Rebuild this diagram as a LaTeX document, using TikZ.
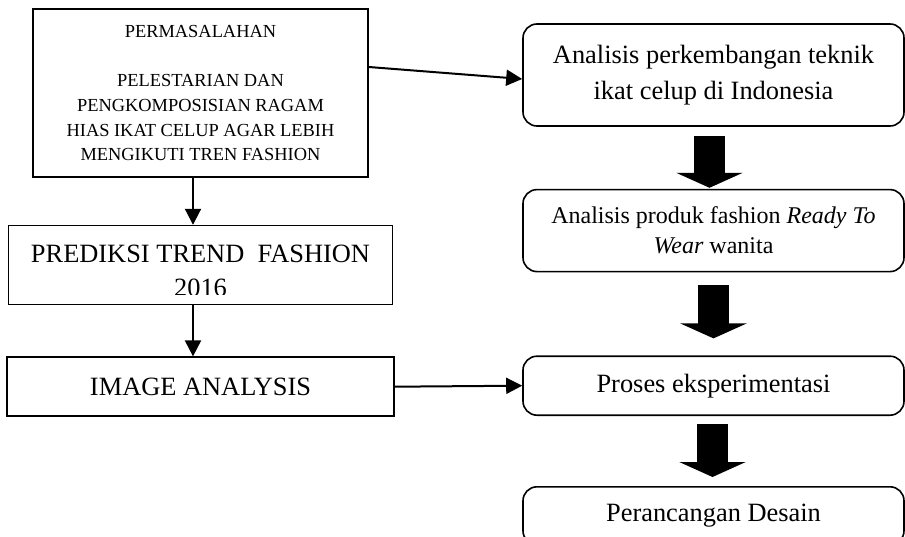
\documentclass[tikz,border=0pt]{standalone}
\usepackage{fontspec}
\setmainfont{Liberation Serif}
\usetikzlibrary{positioning,arrows.meta}

\begin{document}
\begin{tikzpicture}[x=1pt,y=-1pt,
  lbox/.style={draw,line width=1.6pt,inner sep=0pt,align=center},
  rbox/.style={draw,line width=1.6pt,rounded corners=14pt,inner sep=0pt,align=center,minimum width=381pt},
  big/.style={font=\fontsize{26.4}{36}\selectfont},
  arr/.style={-{Triangle[width=16pt,length=16pt]},line width=2pt},
  blk/.style={-{Triangle[width=66pt,length=15pt]},line width=31pt}]
\useasboundingbox (0,0) rectangle (905,537);
% left column
\node[lbox,minimum width=335pt,minimum height=168pt,font=\fontsize{18.4}{24.7}\selectfont] (pm) at (200.5,93)
  {PERMASALAHAN\\[24.7pt]PELESTARIAN DAN\\PENGKOMPOSISIAN RAGAM\\HIAS IKAT CELUP AGAR LEBIH\\MENGIKUTI TREN FASHION};
\node[lbox,minimum width=384pt,minimum height=79pt,below=47pt of pm] (pt) {};
\begin{scope}
\clip ([yshift=11pt]pt.south west) rectangle (pt.north east);
\node[inner sep=0pt,align=center,anchor=north,font=\fontsize{26.4}{33.5}\selectfont] (ptx) at ([yshift=-20.5pt]pt.north)
  {PREDIKSI TREND\ \ FASHION\\2016};
\end{scope}
\node[lbox,minimum width=387pt,minimum height=59pt,big,below=51pt of pt] (ia) {IMAGE ANALYSIS};
% right column
\node[rbox,minimum height=102pt,big] (an1) at (713.5,75) {Analisis perkembangan teknik\\ikat celup di Indonesia};
\node[rbox,minimum height=82pt,below=62pt of an1,font=\fontsize{24}{30}\selectfont] (an2)
  {Analisis produk fashion \textit{Ready To}\\\textit{Wear} wanita};
\node[rbox,minimum height=59pt,big,below=83pt of an2] (pe) {Proses eksperimentasi};
\node[rbox,minimum height=58pt,big,below=70pt of pe] (pd) {Perancangan Desain};
% connectors
\draw[arr] ([yshift=26pt]pm.east) -- ([yshift=-4pt]an1.west);
\draw[arr] ([xshift=-7.5pt]pm.south) -- ([xshift=-7.5pt]pm.south |- pt.north);
\draw[arr] ([xshift=-7.5pt]pt.south) -- ([xshift=-7.5pt]pt.south |- ia.north);
\draw[arr] (ia.east) -- (pe.west);
\draw[blk,shorten <=9pt,shorten >=1pt] ([xshift=-4pt]an1.south) -- ([xshift=-4pt]an2.north);
\draw[blk,shorten <=13pt,shorten >=17pt] (an2.south) -- (pe.north);
\draw[blk,shorten <=8pt,shorten >=9pt] ([xshift=-1pt]pe.south) -- ([xshift=-1pt]pd.north);
\end{tikzpicture}
\end{document}
